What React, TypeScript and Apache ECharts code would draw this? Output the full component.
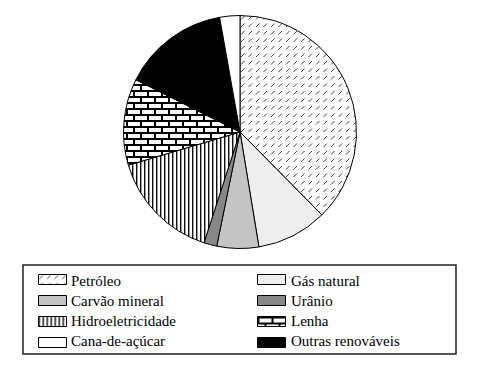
import React, { useEffect, useRef } from "react";
import * as echarts from "echarts";

const categories = [
  "Petróleo",
  "Gás natural",
  "Carvão mineral",
  "Urânio",
  "Hidroeletricidade",
  "Lenha",
  "Outras renováveis",
  "Cana-de-açúcar",
];
const values = [37.6, 9.8, 5.8, 1.8, 15.4, 12.0, 14.8, 2.8];
const leftLegend = ["Petróleo", "Carvão mineral", "Hidroeletricidade", "Cana-de-açúcar"];
const rightLegend = ["Gás natural", "Urânio", "Lenha", "Outras renováveis"];

function makeCanvas(w: number, h: number, draw: (c: CanvasRenderingContext2D) => void) {
  const cv = document.createElement("canvas");
  cv.width = w;
  cv.height = h;
  const ctx = cv.getContext("2d")!;
  ctx.fillStyle = "#fff";
  ctx.fillRect(0, 0, w, h);
  draw(ctx);
  return { image: cv, repeat: "repeat", imageWidth: w, imageHeight: h } as any;
}

const FONT = "Liberation Serif";

export default function App() {
  const ref = useRef<HTMLDivElement>(null);
  useEffect(() => {
    const chart = echarts.init(ref.current!, undefined, { renderer: "svg" });

    const petroleo = makeCanvas(15, 15, (c) => {
      c.strokeStyle = "#444";
      c.lineWidth = 1;
      const offs = [
        [1, 1],
        [8.5, 1],
        [1, 8.5],
        [8.5, 8.5],
      ];
      for (const [x, y] of offs) {
        c.beginPath();
        c.moveTo(x, y + 3.5);
        c.lineTo(x + 3.5, y);
        c.stroke();
      }
    });
    const hidro = makeCanvas(4, 4, (c) => {
      c.fillStyle = "#111";
      c.fillRect(0, 0, 1, 4);
      c.fillStyle = "#999";
      c.fillRect(1, 0, 1, 4);
    });
    const lenha = makeCanvas(14, 12, (c) => {
      c.fillStyle = "#000";
      c.fillRect(0, 0, 14, 2);
      c.fillRect(0, 6, 14, 2);
      c.fillRect(0, 0, 2, 6);
      c.fillRect(7, 6, 2, 6);
    });

    const colors: Record<string, any> = {
      "Petróleo": petroleo,
      "Gás natural": "#eeeeee",
      "Carvão mineral": "#c4c4c4",
      "Urânio": "#878787",
      "Hidroeletricidade": hidro,
      "Lenha": lenha,
      "Outras renováveis": "#000000",
      "Cana-de-açúcar": "#ffffff",
    };

    const legendCommon = {
      orient: "vertical",
      itemWidth: 28,
      itemHeight: 10,
      itemGap: 10,
      icon: "rect",
      selectedMode: false,
      padding: 0,
      itemStyle: { borderColor: "#000", borderWidth: 1 },
      formatter: () => " ",
      textStyle: { color: "rgba(0,0,0,0)", fontSize: 10 },
    };

    const rowTop = [273, 293, 313, 333];
    const labelTexts: any[] = [];
    const addCol = (names: string[], left: number) =>
      names.forEach((name, i) => {
        labelTexts.push({
          type: "text",
          left,
          top: rowTop[i],
          silent: true,
          style: { text: name, fontFamily: FONT, fontSize: 15, fill: "#000" },
        });
      });
    addCol(leftLegend, 71);
    addCol(rightLegend, 291);

    chart.setOption({
      animation: false,
      backgroundColor: "#fff",
      legend: [
        { ...legendCommon, left: 38, top: 274, data: leftLegend },
        { ...legendCommon, left: 257, top: 274, data: rightLegend },
      ],
      graphic: [
        {
          type: "rect",
          shape: { x: 23, y: 265, width: 433, height: 89 },
          style: { fill: "none", stroke: "#222", lineWidth: 1.5 },
          silent: true,
        },
        ...labelTexts,
      ],
      series: [
        {
          type: "pie",
          center: [240, 132],
          radius: 116.5,
          startAngle: 90,
          clockwise: true,
          label: { show: false },
          labelLine: { show: false },
          emphasis: { disabled: true },
          silent: true,
          itemStyle: { borderColor: "#000", borderWidth: 1 },
          data: categories.map((name, i) => ({
            name,
            value: values[i],
            itemStyle: { color: colors[name] },
          })),
        },
      ],
    });
    return () => chart.dispose();
  }, []);
  return (
    <div
      ref={ref}
      style={{ position: "fixed", left: 0, top: 0, width: 478, height: 371 }}
    />
  );
}
